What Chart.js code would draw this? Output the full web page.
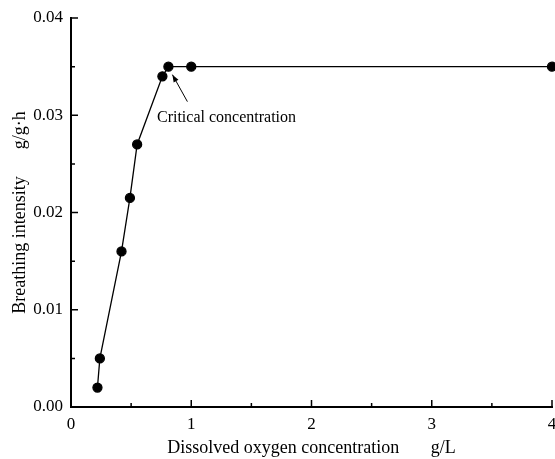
<!DOCTYPE html>
<html>
<head>
<meta charset="utf-8">
<script src="https://cdn.jsdelivr.net/npm/chart.js@4"></script>
<style>
  html, body { margin: 0; padding: 0; background: #fff; }
  #wrap { width: 555px; height: 459px; }
</style>
</head>
<body>
<div id="wrap"><canvas id="chart" width="555" height="459"></canvas></div>
<script>
// values
const oxygen = [0.22, 0.24, 0.42, 0.49, 0.55, 0.76, 0.81, 1.0, 4.0];
const breathing = [0.002, 0.005, 0.016, 0.0215, 0.027, 0.034, 0.035, 0.035, 0.035];
const xTicks = [0, 1, 2, 3, 4];
const yTicks = [0.00, 0.01, 0.02, 0.03, 0.04];
const noteText = "Critical concentration";
const xTitle = "Dissolved oxygen concentration       g/L";
const yTitle = "Breathing intensity      g/g·h";

const FONT = "'Liberation Serif', 'Times New Roman', serif";

// inward major/minor ticks + the arrow note
const decor = {
  id: 'decor',
  afterDraw(chart) {
    const c = chart.ctx, xs = chart.scales.x, ys = chart.scales.y;
    const x0 = xs.left, y0 = ys.bottom;
    c.save();
    c.strokeStyle = '#000';
    c.lineWidth = 1.5;
    c.beginPath();
    for (let v = 0; v <= 4; v += 0.5) {
      const px = xs.getPixelForValue(v);
      const len = (v % 1 === 0) ? 7 : 4;
      c.moveTo(px, y0); c.lineTo(px, y0 - len);
    }
    for (let v = 0; v <= 0.0401; v += 0.005) {
      const py = ys.getPixelForValue(v);
      const len = (Math.round(v * 1000) % 10 === 0) ? 7 : 4;
      c.moveTo(x0, py); c.lineTo(x0 + len, py);
    }
    c.stroke();

    // arrow pointing at the critical point
    const tipX = xs.getPixelForValue(0.81) + 4, tipY = ys.getPixelForValue(0.035) + 8;
    const tailX = tipX + 15, tailY = tipY + 27;
    c.lineWidth = 1;
    c.beginPath(); c.moveTo(tailX, tailY); c.lineTo(tipX, tipY); c.stroke();
    const ang = Math.atan2(tipY - tailY, tipX - tailX);
    c.fillStyle = '#000';
    c.beginPath();
    c.moveTo(tipX, tipY);
    c.lineTo(tipX - 8 * Math.cos(ang - 0.35), tipY - 8 * Math.sin(ang - 0.35));
    c.lineTo(tipX - 8 * Math.cos(ang + 0.35), tipY - 8 * Math.sin(ang + 0.35));
    c.closePath(); c.fill();

    c.font = '16px ' + FONT;
    c.textAlign = 'left';
    c.textBaseline = 'middle';
    c.fillText(noteText, xs.getPixelForValue(0.715), ys.getPixelForValue(0.0297));
    c.restore();
  }
};

new Chart(document.getElementById('chart'), {
  type: 'scatter',
  data: {
    datasets: [{
      data: oxygen.map((x, i) => ({ x, y: breathing[i] })),
      showLine: true,
      borderColor: '#000',
      borderWidth: 1.3,
      backgroundColor: '#000',
      pointRadius: 4.5,
      pointHoverRadius: 4.5,
      clip: false
    }]
  },
  options: {
    responsive: false,
    animation: false,
    layout: { autoPadding: false, padding: { top: 18, right: 3, left: 0, bottom: 0 } },
    plugins: { legend: { display: false }, tooltip: { enabled: false } },
    scales: {
      x: {
        type: 'linear', min: 0, max: 4,
        afterBuildTicks: s => { s.ticks = xTicks.map(v => ({ value: v })); },
        afterFit: s => { s.height = 52; s.paddingLeft = 0; s.paddingRight = 0; },
        grid: { display: false, drawTicks: false },
        border: { display: true, color: '#000', width: 2 },
        ticks: { color: '#000', padding: 7, font: { family: FONT, size: 17 } },
        title: { display: true, text: xTitle, color: '#000',
                 padding: { top: 0, bottom: 0 }, font: { family: FONT, size: 18 } }
      },
      y: {
        type: 'linear', min: 0, max: 0.04,
        afterBuildTicks: s => { s.ticks = yTicks.map(v => ({ value: v })); },
        afterFit: s => { s.width = 71; s.paddingTop = 0; s.paddingBottom = 0; },
        grid: { display: false, drawTicks: false },
        border: { display: true, color: '#000', width: 2 },
        ticks: { color: '#000', padding: 8, font: { family: FONT, size: 17 },
                 callback: v => v.toFixed(2) },
        title: { display: true, text: yTitle, color: '#000',
                 padding: { top: 9, bottom: 0 }, font: { family: FONT, size: 18 } }
      }
    }
  },
  plugins: [decor]
});
</script>
</body>
</html>
